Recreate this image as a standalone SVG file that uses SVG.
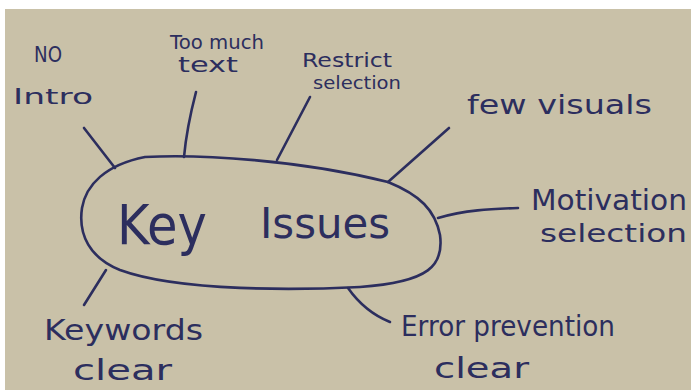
<svg xmlns="http://www.w3.org/2000/svg" width="691" height="390" viewBox="0 0 691 390">
<style>
.ink{fill:none;stroke:#2c2e5e;stroke-width:2.6;stroke-linecap:round;stroke-linejoin:round}
.t{font-family:"DejaVu Sans","Liberation Sans",sans-serif;fill:#2c2e5e}
.s{font-size:21px}
</style>
<rect x="0" y="0" width="691" height="390" fill="#ffffff"/>
<rect x="5" y="9" width="686" height="381" fill="#c9c1a8"/>
<g id="center">
<path class="ink" d="M145,157 C200,154 300,160 388,182 C420,195 435,210 440,235 C444,265 430,282 360,287 C300,290 180,292 120,270 C90,258 78,235 82,208 C86,185 105,165 145,157 Z"/>
<text class="t" x="117" y="244" font-size="56" textLength="90" lengthAdjust="spacingAndGlyphs">Key</text>
<text class="t" x="260" y="238" font-size="42" textLength="130" lengthAdjust="spacingAndGlyphs">Issues</text>
</g>
<g id="connectors">
<path class="ink" d="M84,128 L115,168"/>
<path class="ink" d="M196,92 C190,115 186,135 184,157"/>
<path class="ink" d="M310,97 L277,160"/>
<path class="ink" d="M449,128 L388,182"/>
<path class="ink" d="M438,218 C465,210 490,209 518,208"/>
<path class="ink" d="M106,270 L84,305"/>
<path class="ink" d="M348,288 C360,305 375,316 390,322"/>
</g>
<g id="n-intro">
<text class="t s" x="34" y="62" font-size="17" textLength="28" lengthAdjust="spacingAndGlyphs">NO</text>
<text class="t s" x="13" y="104" font-size="28" textLength="80" lengthAdjust="spacingAndGlyphs">Intro</text>
</g>
<g id="n-text">
<text class="t" x="170" y="49" font-size="19" textLength="94" lengthAdjust="spacingAndGlyphs">Too much</text>
<text class="t" x="178" y="72" font-size="21" textLength="60" lengthAdjust="spacingAndGlyphs">text</text>
</g>
<g id="n-restrict">
<text class="t" x="302" y="67" font-size="20" textLength="90" lengthAdjust="spacingAndGlyphs">Restrict</text>
<text class="t" x="313" y="89" font-size="18" textLength="88" lengthAdjust="spacingAndGlyphs">selection</text>
</g>
<g id="n-visuals">
<text class="t" x="467" y="114" font-size="26" textLength="185" lengthAdjust="spacingAndGlyphs">few visuals</text>
</g>
<g id="n-motivation">
<text class="t" x="531" y="210" font-size="28" textLength="156" lengthAdjust="spacingAndGlyphs">Motivation</text>
<text class="t" x="540" y="242" font-size="25" textLength="147" lengthAdjust="spacingAndGlyphs">selection</text>
</g>
<g id="n-keywords">
<text class="t" x="44" y="340" font-size="28" textLength="159" lengthAdjust="spacingAndGlyphs">Keywords</text>
<text class="t" x="73" y="380" font-size="28" textLength="99" lengthAdjust="spacingAndGlyphs">clear</text>
</g>
<g id="n-error">
<text class="t" x="401" y="336" font-size="28" textLength="214" lengthAdjust="spacingAndGlyphs">Error prevention</text>
<text class="t" x="434" y="378" font-size="28" textLength="95" lengthAdjust="spacingAndGlyphs">clear</text>
</g>
</svg>
